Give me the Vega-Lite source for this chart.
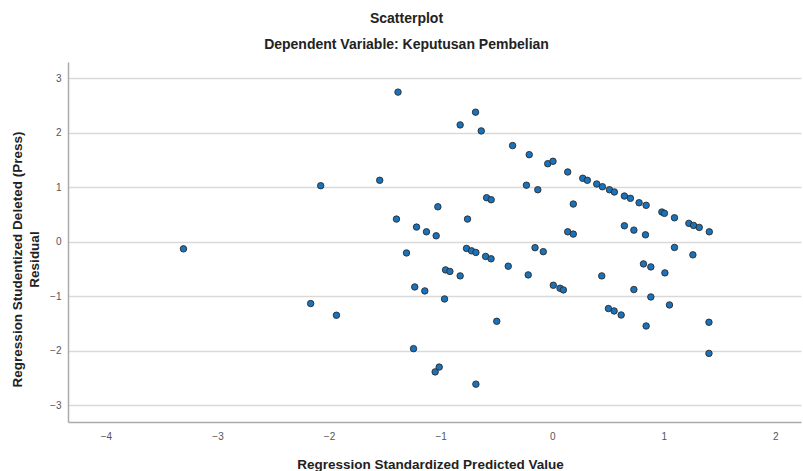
{
  "$schema": "https://vega.github.io/schema/vega-lite/v6.json",
  "width": 733,
  "height": 360,
  "autosize": "none",
  "padding": {"left": 68, "top": 62, "right": 2, "bottom": 49},
  "background": "white",
  "config": {
    "view": {"stroke": null},
    "font": "Liberation Sans"
  },
  "title": {
    "text": "Scatterplot",
    "subtitle": "Dependent Variable: Keputusan Pembelian",
    "anchor": "middle",
    "dx": -28,
    "fontSize": 14,
    "fontWeight": "bold",
    "color": "#222",
    "subtitleFontSize": 14,
    "subtitleFontWeight": "bold",
    "subtitleColor": "#222",
    "subtitlePadding": 12,
    "offset": 10
  },
  "data": {
    "values": [
      {"x": -1.382, "y": 2.747}, {"x": -0.687, "y": 2.379}, {"x": -0.825, "y": 2.145}, {"x": -0.636, "y": 2.035},
      {"x": -0.355, "y": 1.765}, {"x": -0.206, "y": 1.599}, {"x": -2.075, "y": 1.029}, {"x": -1.546, "y": 1.128},
      {"x": -0.231, "y": 1.038}, {"x": -0.129, "y": 0.955}, {"x": -0.588, "y": 0.808}, {"x": -0.547, "y": 0.771},
      {"x": -1.025, "y": 0.642}, {"x": -1.396, "y": 0.416}, {"x": -0.759, "y": 0.416}, {"x": -1.216, "y": 0.269},
      {"x": -1.127, "y": 0.182}, {"x": -1.04, "y": 0.109}, {"x": -1.306, "y": -0.206}, {"x": -0.768, "y": -0.123},
      {"x": -0.723, "y": -0.167}, {"x": -0.684, "y": -0.197}, {"x": -0.597, "y": -0.27}, {"x": -0.548, "y": -0.313},
      {"x": -0.154, "y": -0.109}, {"x": -0.394, "y": -0.449}, {"x": -0.215, "y": -0.609}, {"x": -0.956, "y": -0.517},
      {"x": -0.917, "y": -0.546}, {"x": -0.825, "y": -0.627}, {"x": -1.232, "y": -0.83}, {"x": -1.142, "y": -0.903},
      {"x": -0.965, "y": -1.051}, {"x": -2.165, "y": -1.135}, {"x": -1.934, "y": -1.35}, {"x": -0.497, "y": -1.461},
      {"x": -1.243, "y": -1.963}, {"x": -1.013, "y": -2.302}, {"x": -1.049, "y": -2.39}, {"x": -0.684, "y": -2.615},
      {"x": -3.305, "y": -0.131},
      {"x": -0.04, "y": 1.433}, {"x": 0.007, "y": 1.477}, {"x": 0.139, "y": 1.281}, {"x": 0.274, "y": 1.165},
      {"x": 0.315, "y": 1.128}, {"x": 0.399, "y": 1.06}, {"x": 0.45, "y": 1.01}, {"x": 0.513, "y": 0.955},
      {"x": 0.557, "y": 0.913}, {"x": 0.647, "y": 0.839}, {"x": 0.701, "y": 0.797}, {"x": 0.779, "y": 0.716},
      {"x": 0.842, "y": 0.668}, {"x": 0.983, "y": 0.545}, {"x": 1.006, "y": 0.521}, {"x": 1.096, "y": 0.44},
      {"x": 1.225, "y": 0.337}, {"x": 1.267, "y": 0.3}, {"x": 1.318, "y": 0.263}, {"x": 1.408, "y": 0.182},
      {"x": 0.189, "y": 0.692}, {"x": 0.139, "y": 0.182}, {"x": 0.189, "y": 0.14}, {"x": 0.647, "y": 0.293},
      {"x": 0.732, "y": 0.213}, {"x": 0.836, "y": 0.127}, {"x": 1.096, "y": -0.105}, {"x": 1.261, "y": -0.241},
      {"x": -0.08, "y": -0.182}, {"x": 0.01, "y": -0.799}, {"x": 0.07, "y": -0.854}, {"x": 0.1, "y": -0.885},
      {"x": 0.444, "y": -0.627}, {"x": 0.818, "y": -0.407}, {"x": 0.884, "y": -0.462}, {"x": 1.01, "y": -0.572},
      {"x": 0.732, "y": -0.878}, {"x": 0.884, "y": -1.014}, {"x": 1.051, "y": -1.161}, {"x": 0.504, "y": -1.227},
      {"x": 0.555, "y": -1.271}, {"x": 0.618, "y": -1.345}, {"x": 0.842, "y": -1.547}, {"x": 1.405, "y": -1.479},
      {"x": 1.405, "y": -2.05}
    ]
  },
  "mark": {
    "type": "point",
    "filled": true,
    "shape": "circle",
    "size": 42,
    "fill": "#1a72bb",
    "stroke": "#2b2b2b",
    "strokeWidth": 0.9,
    "opacity": 1
  },
  "encoding": {
    "x": {
      "field": "x",
      "type": "quantitative",
      "scale": {"domain": [-4.34, 2.23], "nice": false, "zero": false},
      "axis": {
        "values": [-4, -3, -2, -1, 0, 1, 2],
        "title": "Regression Standardized Predicted Value",
        "titleFontSize": 13.5,
        "titleFontWeight": "bold",
        "titleColor": "#222",
        "titleX": 362,
        "titleY": 46,
        "titleBaseline": "alphabetic",
        "grid": false,
        "ticks": false,
        "labelPadding": 9,
        "labelFontSize": 10,
        "labelColor": "#555",
        "domainColor": "#aaaaaa",
        "domainWidth": 1.5
      }
    },
    "y": {
      "field": "y",
      "type": "quantitative",
      "scale": {"domain": [-3.31, 3.3], "nice": false, "zero": false},
      "axis": {
        "values": [-3, -2, -1, 0, 1, 2, 3],
        "title": ["Regression Studentized Deleted (Press)", "Residual"],
        "titleFontSize": 13.5,
        "titleFontWeight": "bold",
        "titleColor": "#222",
        "titleY": 197,
        "titleX": -44,
        "titleLineHeight": 17,
        "grid": true,
        "gridColor": "#d9d9d9",
        "gridWidth": 1.5,
        "ticks": false,
        "labelPadding": 7,
        "labelFontSize": 10,
        "labelColor": "#555",
        "domainColor": "#aaaaaa",
        "domainWidth": 1.5
      }
    }
  }
}
